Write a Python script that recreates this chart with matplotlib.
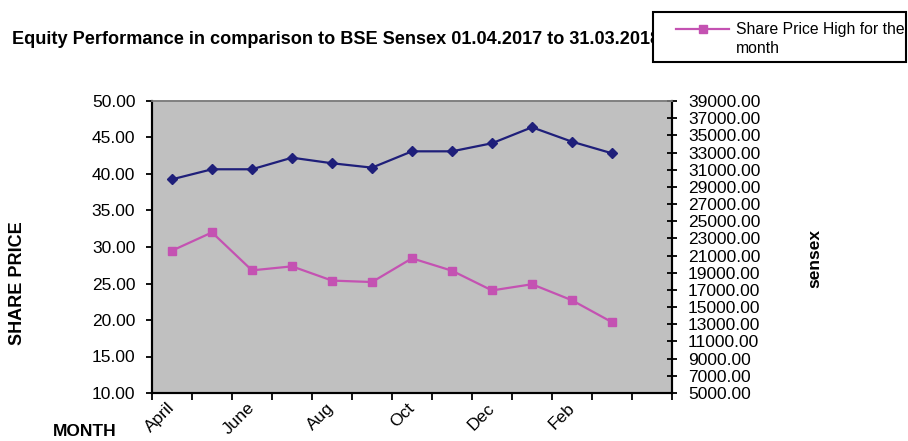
import numpy as np
import matplotlib
matplotlib.use("Agg")
import matplotlib.pyplot as plt
from matplotlib.lines import Line2D
from matplotlib.patches import Rectangle

plt.rcParams['font.family'] = ['Liberation Sans', 'DejaVu Sans']

# monthly data, April 2017 .. March 2018
months = ['April', 'May', 'June', 'July', 'Aug', 'Sep', 'Oct', 'Nov', 'Dec', 'Jan', 'Feb', 'March']
share_price = [29.5, 32.0, 26.8, 27.35, 25.4, 25.2, 28.45, 26.75, 24.05, 24.9, 22.7, 19.7]
sensex = [29880, 31050, 31050, 32400, 31750, 31240, 33140, 33140, 34080, 35940, 34260, 32910]

left_ticks = [10, 15, 20, 25, 30, 35, 40, 45, 50]
right_ticks = list(range(5000, 39001, 2000))

navy = '#1F1F7A'
pink = '#C452B2'

W, H = 908, 441
fig = plt.figure(figsize=(W / 100, H / 100), dpi=100)
ax = fig.add_axes([152/W, 1 - 393/H, 520/W, 292/H])
ax.set_facecolor('#C0C0C0')
ax2 = ax.twinx()

x = np.arange(len(months))
ax.plot(x, share_price, color=pink, lw=1.6, marker='s', ms=6, mec=pink, zorder=3)
ax2.plot(x, sensex, color=navy, lw=1.6, marker='D', ms=5, mec=navy, zorder=3)

ax.set_xlim(-0.5, 12.5)
ax.set_ylim(10, 50)
ax2.set_ylim(5000, 39000)

ax.set_yticks(left_ticks, [f'{v:.2f}' for v in left_ticks])
ax2.set_yticks(right_ticks, [f'{v:.2f}' for v in right_ticks])

ax.set_xticks(np.arange(-0.5, 13, 1.0), [])
ax.set_xticks(x[::2], months[::2], minor=True)
ax.tick_params(axis='x', which='major', length=5, width=1.3, direction='out')
ax.tick_params(axis='x', which='minor', length=0, pad=9, labelsize=12.5)
for lab in ax.get_xticklabels(minor=True):
    lab.set_rotation(45)
    lab.set_ha('right')
    lab.set_va('center')
    lab.set_rotation_mode('anchor')

ax.tick_params(axis='y', length=4, width=1.3, pad=8, labelsize=12.5, direction='out')
ax2.tick_params(axis='y', length=7, width=1.3, pad=8, labelsize=12.5, direction='inout')

for a in (ax, ax2):
    for side in ('left', 'right', 'bottom'):
        a.spines[side].set_linewidth(1.5)
        a.spines[side].set_color('black')
    a.spines['top'].set_color('#808080')
    a.spines['top'].set_linewidth(1.2)

fig.text(12/W, 1 - 40/H,
         'Equity Performance in comparison to BSE Sensex 01.04.2017 to 31.03.2018',
         fontsize=13.05, fontweight='bold', va='center', ha='left', zorder=3)
fig.text(18/W, 1 - 283/H, 'SHARE PRICE', rotation=90, fontsize=13,
         fontweight='bold', va='center', ha='center')
fig.text(815/W, 1 - 259/H, 'sensex', rotation=90, fontsize=12.5,
         fontweight='bold', va='center', ha='center')
fig.text(53/W, 1 - 432/H, 'MONTH', fontsize=12.5, fontweight='bold',
         va='center', ha='left')

# legend box (white, covers end of the title like the original)
fig.patches.append(Rectangle((653/W, 1 - 62/H), 253/W, 50/H, transform=fig.transFigure,
                             facecolor='white', edgecolor='black', lw=1.5, zorder=4))

handle = Line2D([], [], color=pink, lw=1.6, marker='s', ms=5.5, mec=pink)
leg = fig.legend([handle], ['Share Price High for the\nmonth'],
                 loc='upper left', bbox_to_anchor=(676/W, 1 - 22/H),
                 fontsize=11.3, frameon=False, handlelength=3.4,
                 borderpad=0, handletextpad=0.4, borderaxespad=0)
leg.set_zorder(5)
for t in leg.get_texts():
    t.set_linespacing(1.3)
# put the key line level with the first text line
hl = leg.legend_handles[0]
hl.set_ydata(np.asarray(hl.get_ydata()) + 7.3)

fig.savefig('out.png', dpi=100)
